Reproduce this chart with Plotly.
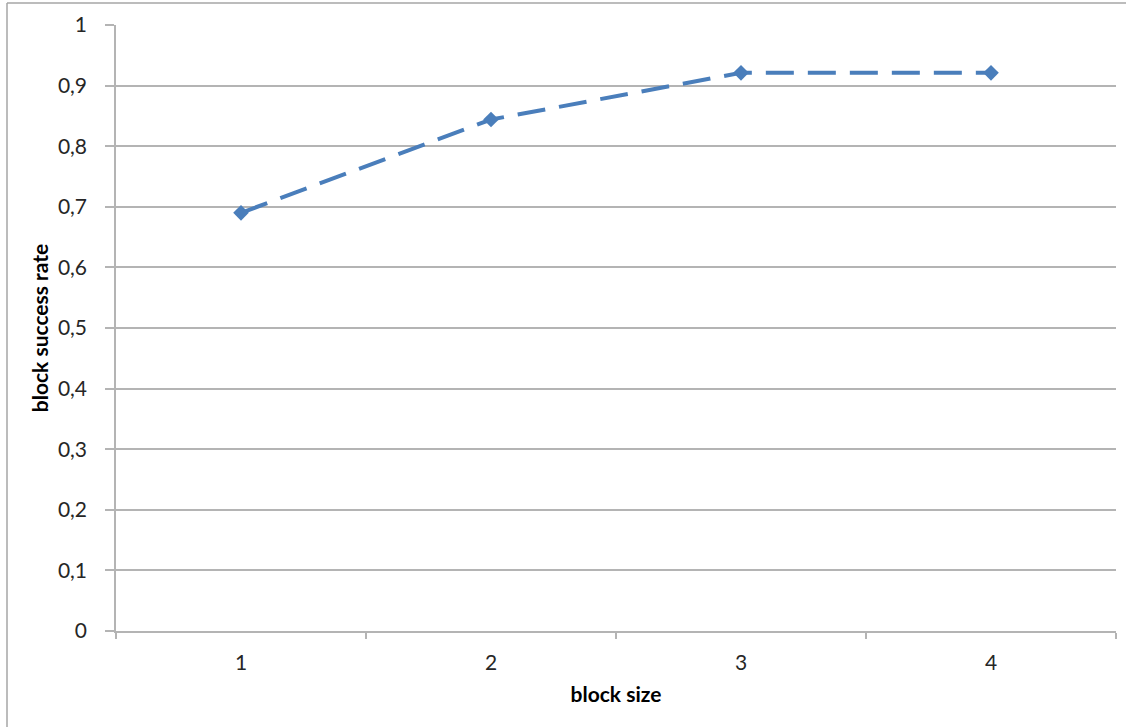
import plotly.graph_objects as go

# Data
block_sizes = ["1", "2", "3", "4"]
success_rate = [0.69, 0.844, 0.921, 0.921]
y_ticks = [0, 0.1, 0.2, 0.3, 0.4, 0.5, 0.6, 0.7, 0.8, 0.9, 1]
y_tick_labels = ["0", "0,1", "0,2", "0,3", "0,4", "0,5", "0,6", "0,7", "0,8", "0,9", "1"]

W, H = 1126, 727
L, R, T, B = 116, 10, 25, 96
pw, ph = W - L - R, H - T - B

grid_col = "#b4b4b4"
line_col = "#4a7ebb"
font_fam = "Lato, 'Open Sans', sans-serif"

fig = go.Figure()
fig.add_trace(go.Scatter(
    x=block_sizes, y=success_rate,
    mode="lines+markers",
    line=dict(color=line_col, width=4, dash="28px,14px"),
    marker=dict(symbol="diamond", size=12, color=line_col),
    showlegend=False,
    cliponaxis=False,
))

# chart border (top and left edges visible)
bx = (7 - L) / pw
by = (H - B - 3) / ph
fig.add_shape(type="line", xref="paper", yref="paper", x0=bx, x1=1.2, y0=by, y1=by,
              line=dict(color="#a6a6a6", width=1.5))
fig.add_shape(type="line", xref="paper", yref="paper", x0=bx, x1=bx, y0=by, y1=-0.3,
              line=dict(color="#a6a6a6", width=1.5))

fig.update_layout(
    width=W, height=H,
    margin=dict(l=L, r=R, t=T, b=B),
    paper_bgcolor="white", plot_bgcolor="white",
    font=dict(family=font_fam, size=21, color="#262626"),
    xaxis=dict(
        type="category",
        range=[-0.5, 3.5],
        tickson="boundaries",
        ticks="outside", ticklen=6, tickcolor=grid_col, tickwidth=1.5,
        showline=True, linecolor=grid_col, linewidth=1.5,
        showgrid=False, zeroline=False,
        ticklabelstandoff=12,
        tickfont=dict(size=21, color="#262626"),
        title=dict(text="<b>block size</b>", font=dict(size=21, color="#000"), standoff=14),
    ),
    yaxis=dict(
        range=[0, 1],
        tickvals=y_ticks, ticktext=y_tick_labels,
        ticks="outside", ticklen=9, tickcolor=grid_col, tickwidth=1.5,
        showline=True, linecolor=grid_col, linewidth=1.5,
        showgrid=True, gridcolor=grid_col, gridwidth=1.5,
        zeroline=False,
        ticklabelstandoff=14,
        tickfont=dict(size=21, color="#262626"),
        title=dict(text="<b>block success rate</b>", font=dict(size=21, color="#000"), standoff=4),
    ),
)

fig.write_html("out.html")
